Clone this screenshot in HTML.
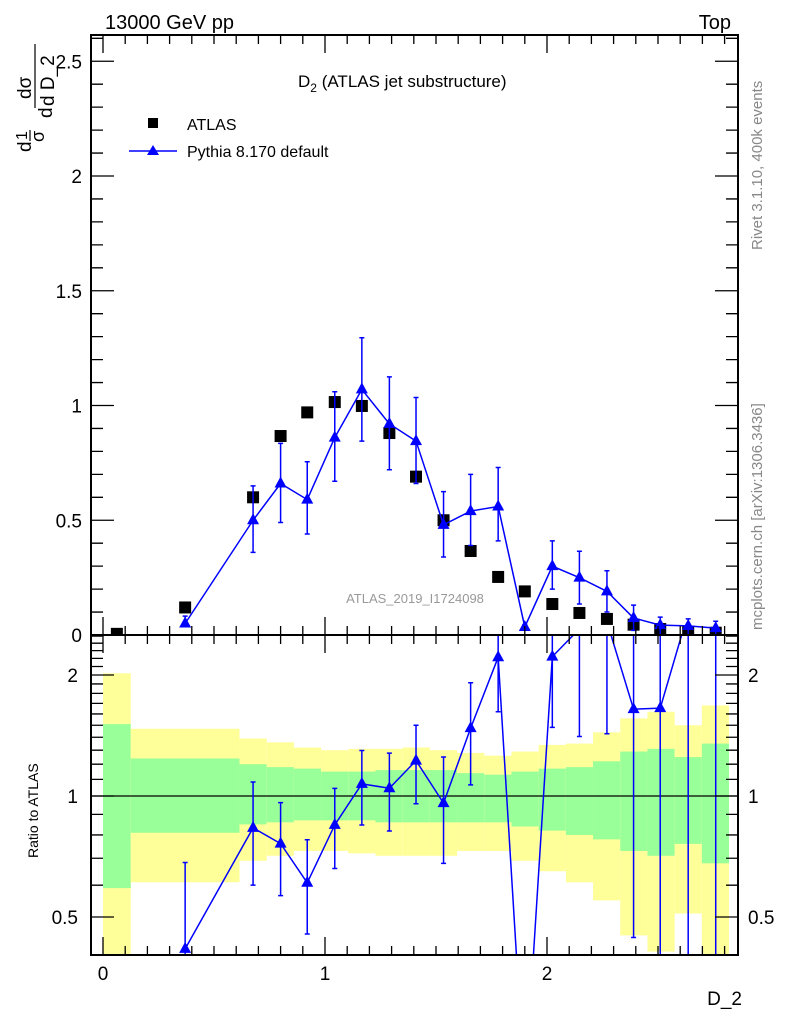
<!DOCTYPE html>
<html><head><meta charset="utf-8">
<style>
html,body{margin:0;padding:0;background:#fff;width:786px;height:1024px;overflow:hidden;}
svg{display:block;font-family:"Liberation Sans",sans-serif;}
</style></head><body>
<svg id="chart" width="786" height="1024" xmlns="http://www.w3.org/2000/svg">
<defs>
<clipPath id="clipMain"><rect x="91" y="35" width="647" height="600"/></clipPath>
<clipPath id="clipRatio"><rect x="91" y="635" width="647" height="320"/></clipPath>
</defs>
<g id="bands" clip-path="url(#clipRatio)"></g>
<g id="marks"></g>
<g id="axes"></g>
<text x="105" y="29" font-size="20">13000 GeV pp</text>
<text x="731" y="29" font-size="20" text-anchor="end">Top</text>
<text x="298" y="87" font-size="17">D<tspan font-size="12" dy="5">2</tspan><tspan dy="-5"> (ATLAS jet substructure)</tspan></text>
<g>
<rect x="148" y="118" width="10" height="10" fill="#000"/>
<text x="187" y="130" font-size="16">ATLAS</text>
<line x1="129" y1="151" x2="177" y2="151" stroke="#00f" stroke-width="1.5"/>
<polygon points="153,145 147,155 159,155" fill="#00f"/>
<text x="187" y="157" font-size="16">Pythia 8.170 default</text>
</g>
<text x="415" y="603" font-size="13" fill="#999" text-anchor="middle">ATLAS_2019_I1724098</text>
<text transform="translate(762,250) rotate(-90)" font-size="15" fill="#888">Rivet 3.1.10,  400k events</text>
<text transform="translate(762,630) rotate(-90)" font-size="15" fill="#888">mcplots.cern.ch [arXiv:1306.3436]</text>
<g transform="translate(0,152) rotate(-90)" font-size="19">
<text x="0" y="31">d</text>
<text x="12" y="27" font-size="16">1</text>
<line x1="11" y1="30" x2="22" y2="30" stroke="#000" stroke-width="1.2"/>
<text x="10" y="44" font-size="18">σ</text>
<text x="34" y="52">d</text>
<text x="53" y="31">dσ</text>
<line x1="44" y1="35" x2="108" y2="35" stroke="#000" stroke-width="1.2"/>
<text x="46" y="54">d D_2</text>
</g>
<text transform="translate(38,858) rotate(-90)" font-size="14">Ratio to ATLAS</text>
<text x="742" y="1005" font-size="19" text-anchor="end">D_2</text>
</svg>
<script>
const binEdges=[0,0.125,0.615,0.7375,0.86,0.9825,1.105,1.2275,1.35,1.4725,1.595,1.7175,1.84,1.9625,2.085,2.2075,2.33,2.4525,2.575,2.6975,2.82];
const xCenters=[0.0625,0.37,0.676,0.80,0.92,1.044,1.166,1.29,1.41,1.534,1.656,1.78,1.90,2.024,2.146,2.27,2.39,2.51,2.636,2.76];
const atlasVals=[0.005,0.12,0.60,0.867,0.97,1.015,0.998,0.88,0.69,0.50,0.366,0.253,0.19,0.135,0.096,0.07,0.045,0.026,0.014,0.01];
const pythiaVals=[null,0.05,0.50,0.66,0.59,0.86,1.07,0.92,0.845,0.48,0.54,0.56,0.035,0.30,0.25,0.19,0.074,0.043,0.04,0.03];
const pythiaErrUp=[null,0.032,0.15,0.175,0.165,0.20,0.225,0.205,0.19,0.145,0.16,0.17,0.01,0.11,0.115,0.09,0.056,0.035,0.03,0.03];
const pythiaErrDn=[null,0.012,0.14,0.17,0.15,0.19,0.225,0.20,0.185,0.14,0.15,0.15,0.01,0.10,0.115,0.09,0.054,0.043,0.04,0.03];
const yellowHi=[2.02,1.47,1.39,1.36,1.32,1.30,1.31,1.31,1.32,1.30,1.28,1.26,1.29,1.34,1.35,1.44,1.56,1.62,1.50,1.68];
const greenHi=[1.51,1.24,1.20,1.18,1.17,1.15,1.15,1.16,1.16,1.16,1.14,1.13,1.15,1.17,1.18,1.22,1.29,1.31,1.25,1.35];
const greenLo=[0.59,0.81,0.85,0.86,0.87,0.87,0.87,0.86,0.86,0.86,0.86,0.86,0.84,0.82,0.80,0.78,0.73,0.71,0.76,0.68];
const yellowLo=[0.30,0.61,0.69,0.71,0.73,0.73,0.72,0.71,0.71,0.71,0.73,0.73,0.69,0.65,0.61,0.55,0.45,0.41,0.51,0.30];
const mainTicks=[0,0.5,1,1.5,2,2.5];
const mainTickLabels=["0","0.5","1","1.5","2","2.5"];
const ratioTicks=[0.5,1,2];
const ratioTickLabels=["0.5","1","2"];
const xTicks=[0,1,2];
const xTickLabels=["0","1","2"];

const NS="http://www.w3.org/2000/svg";
const L=91,R=738,T=35,MB=635,RB=955;
const X=v=>103+v*222;
const Y=v=>635-v*229.5;
const RY=v=>796-121*Math.log2(v);
const cl=(y,a,b)=>Math.min(Math.max(y,a),b);
function mk(tag,attrs,parent){const e=document.createElementNS(NS,tag);for(const k in attrs)e.setAttribute(k,attrs[k]);parent.appendChild(e);return e;}
function clipPath(p,a,b){
  let d='';
  for(let i=0;i+1<p.length;i++){
    let [x1,y1]=p[i],[x2,y2]=p[i+1];
    if((y1<a&&y2<a)||(y1>b&&y2>b))continue;
    const f=y=>x1+(x2-x1)*(y-y1)/(y2-y1);
    let sx=x1,sy=y1,ex=x2,ey=y2;
    if(sy<a){sx=f(a);sy=a;} if(sy>b){sx=f(b);sy=b;}
    if(ey<a){ex=f(a);ey=a;} if(ey>b){ex=f(b);ey=b;}
    d+=`M${sx},${sy}L${ex},${ey}`;
  }
  return d;
}
const bands=document.getElementById('bands'),marks=document.getElementById('marks'),axes=document.getElementById('axes');

for(let i=0;i<yellowHi.length;i++){
  const x0=X(binEdges[i]),x1=X(binEdges[i+1]);
  const yt=cl(RY(yellowHi[i]),MB,RB),yb=cl(RY(yellowLo[i]),MB,RB);
  const y=mk('rect',{x:x0,y:yt,width:x1-x0,height:yb-yt,fill:'#ffff99'},bands);
  
  
  const gt=cl(RY(greenHi[i]),MB,RB),gb=cl(RY(greenLo[i]),MB,RB);
  const g=mk('rect',{x:x0,y:gt,width:x1-x0,height:gb-gt,fill:'#99ff99'},bands);
  
  
}
const one=mk('line',{x1:L,x2:R,y1:RY(1),y2:RY(1),stroke:'#000','stroke-width':1.3},bands);



const gm=mk('g',{'clip-path':'url(#clipMain)'},marks);
for(let i=0;i<atlasVals.length;i++){
  const s=mk('rect',{x:X(xCenters[i])-6,y:Y(atlasVals[i])-6,width:12,height:12,fill:'#000'},gm);
  
  
}
let pts=[];
for(let i=0;i<pythiaVals.length;i++){if(pythiaVals[i]!=null)pts.push(X(xCenters[i])+','+Y(pythiaVals[i]));}
const pl=mk('polyline',{points:pts.join(' '),fill:'none',stroke:'#00f','stroke-width':1.5},gm);


for(let i=0;i<pythiaVals.length;i++){
  if(pythiaVals[i]==null)continue;
  const cx=X(xCenters[i]),cy=Y(pythiaVals[i]);
  const yt=cl(Y(pythiaVals[i]+pythiaErrUp[i]),T,MB),yb=cl(Y(pythiaVals[i]-pythiaErrDn[i]),T,MB);
  const eb=mk('path',{d:`M${cx},${yt}V${yb}M${cx-2.5},${yt}h5M${cx-2.5},${yb}h5`,stroke:'#00f','stroke-width':1.5,fill:'none'},gm);
  
  
  const tr=mk('polygon',{points:`${cx},${cy-7} ${cx-6},${cy+4} ${cx+6},${cy+4}`,fill:'#00f'},gm);
  
  
}
const gr=mk('g',{'clip-path':'url(#clipRatio)'},marks);
let rp=[];
for(let i=0;i<pythiaVals.length;i++){if(pythiaVals[i]!=null)rp.push([X(xCenters[i]),RY(pythiaVals[i]/atlasVals[i])]);}
const rl=mk('path',{d:clipPath(rp,MB,RB),fill:'none',stroke:'#00f','stroke-width':1.5},gr);


for(let i=0;i<pythiaVals.length;i++){
  if(pythiaVals[i]==null)continue;
  const a=atlasVals[i],r=pythiaVals[i]/a;
  const cx=X(xCenters[i]),cy=RY(r);
  if(cy<MB-10||cy>RB+10){
    const hi=RY((pythiaVals[i]+pythiaErrUp[i])/a),lo=RY(Math.max((pythiaVals[i]-pythiaErrDn[i])/a,0.01));
    if(lo<MB||hi>RB)continue;
  }
  const lo=Math.max((pythiaVals[i]-pythiaErrDn[i])/a,0.01);
  const yt=cl(RY((pythiaVals[i]+pythiaErrUp[i])/a),MB-3,RB+3),yb=cl(RY(lo),MB-3,RB+3);
  const eb=mk('path',{d:`M${cx},${yt}V${yb}M${cx-2.5},${yt}h5M${cx-2.5},${yb}h5`,stroke:'#00f','stroke-width':1.5,fill:'none'},gr);
  
  
  if(cy>MB-10&&cy<RB+10){
    const tr=mk('polygon',{points:`${cx},${cy-7} ${cx-6},${cy+4} ${cx+6},${cy+4}`,fill:'#00f'},gr);
    
    
  }
}
for(const [y0,y1,n] of [[T,MB,'main-frame'],[MB,RB,'ratio-frame']]){
  const f=mk('rect',{x:L,y:y0,width:R-L,height:y1-y0,fill:'none',stroke:'#000','stroke-width':2},axes);
  
  
}
let d='';
for(let k=0;k<=26;k++){const v=k/10;const y=Y(v);const maj=k%5==0;const len=maj?23:12;d+=`M${L},${y}h${len}M${R},${y}h${-len}`;}
for(let k=4;k<=25;k++){const v=k/10;const y=RY(v);if(y<MB||y>RB)continue;const maj=(k==5||k==10||k==20);const len=maj?23:12;d+=`M${L},${y}h${len}M${R},${y}h${-len}`;}
for(let k=0;k<=28;k++){const v=k/10;const x=X(v);if(x>R)break;const maj=k%10==0;const len=maj?18:9;
  for(const [yb,dir] of [[MB,-1],[T,1],[RB,-1],[MB,1]]){d+=`M${x},${yb}v${dir*len}`;}}
const tk=mk('path',{d:d,stroke:'#000','stroke-width':1.3,fill:'none'},axes);


mainTicks.forEach((v,i)=>{const t=mk('text',{x:82,y:Y(v)+7,'font-size':19,'text-anchor':'end'},axes);t.textContent=mainTickLabels[i];
  
  });
ratioTicks.forEach((v,i)=>{for(const [x,a] of [[78,'end'],[748,'start']]){const t=mk('text',{x:x,y:RY(v)+7,'font-size':19,'text-anchor':a},axes);t.textContent=ratioTickLabels[i];
  
  }});
xTicks.forEach((v,i)=>{const t=mk('text',{x:X(v),y:980,'font-size':19,'text-anchor':'middle'},axes);t.textContent=xTickLabels[i];
  
  });
</script>
</body></html>
